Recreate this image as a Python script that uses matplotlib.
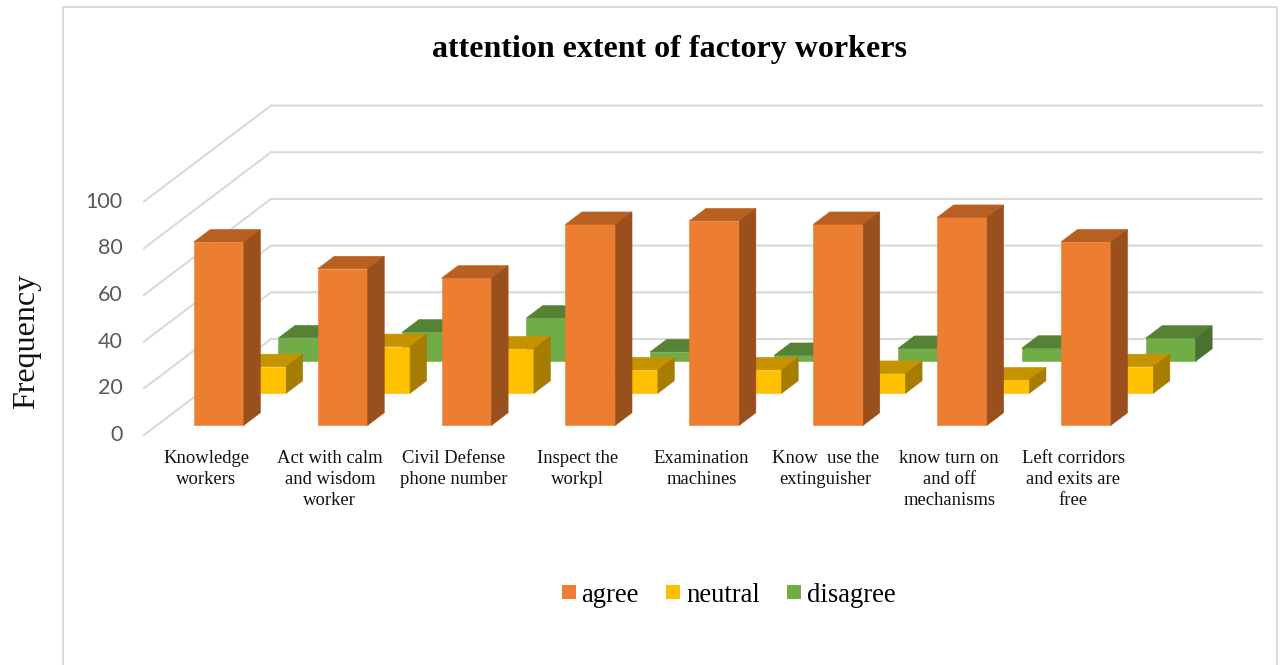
import matplotlib
matplotlib.use('Agg')
import matplotlib.pyplot as plt
from matplotlib.lines import Line2D
from matplotlib.patches import Patch, Polygon
from matplotlib.transforms import ScaledTranslation

categories = ['Knowledge\nworkers', 'Act with calm\nand wisdom\nworker', 'Civil Defense\nphone number',
              'Inspect the\nworkpl', 'Examination\nmachines', 'Know  use the\nextinguisher',
              'know turn on\nand off\nmechanisms', 'Left corridors\nand exits are\nfree']
agree = [78.5, 67, 63, 86, 87.5, 86, 89, 78.5]
neutral = [11.4, 20, 19, 10, 10, 8.5, 5.7, 11.4]
disagree = [10, 12.5, 18.5, 4, 2.5, 5.5, 5.6, 9.9]
y_ticks = [0, 20, 40, 60, 80, 100]

W, H = 1284, 665

# depth of the 3d look: one series row moves this far in data units
ROW_DX = 0.3417
ROW_DY = 13.7
BAR_W = 0.404
BAR_D = 0.39


def project(x, y, d):
    return (x + d * ROW_DX, y + d * ROW_DY)


def draw_bar(ax, x, val, row, colors):
    front, top, side = colors
    x0 = x - BAR_W / 2
    x1 = x + BAR_W / 2
    d0 = row + (1 - BAR_D) / 2
    d1 = d0 + BAR_D
    faces = [
        (front, [project(x0, 0, d0), project(x1, 0, d0), project(x1, val, d0), project(x0, val, d0)]),
        (top, [project(x0, val, d0), project(x1, val, d0), project(x1, val, d1), project(x0, val, d1)]),
        (side, [project(x1, 0, d0), project(x1, 0, d1), project(x1, val, d1), project(x1, val, d0)]),
    ]
    for color, pts in faces:
        ax.add_patch(Polygon(pts, closed=True, facecolor=color, edgecolor=color,
                             linewidth=0.4, clip_on=False, zorder=2 + (2 - row)))


fig = plt.figure(figsize=(W / 100, H / 100), dpi=100)
ax = fig.add_axes([144 / W, 1 - 435 / H, (1135 - 144) / W, (435 - 201.5) / H])
ax.set_xlim(0, 8)
ax.set_ylim(0, 100)
for s in ax.spines.values():
    s.set_visible(False)
ax.patch.set_visible(False)

# chart frame
frame_x = [63 / W, 63 / W, 1277 / W, 1277 / W]
frame_y = [0, 1 - 7 / H, 1 - 7 / H, 0]
fig.add_artist(Line2D(frame_x, frame_y, color='#D9D9D9', lw=1.4, transform=fig.transFigure))

# grid on side wall and back wall
for v in y_ticks:
    p0 = project(0, v, 0)
    p1 = project(0, v, 3)
    p2 = project(8, v, 3)
    ax.plot([p0[0], p1[0], p2[0]], [p0[1], p1[1], p2[1]], color='#D9D9D9', lw=1.5,
            clip_on=False, zorder=0)

series = [
    ('agree', agree, ('#ED7D31', '#B85F22', '#9A501D')),
    ('neutral', neutral, ('#FFC000', '#C59300', '#A67D00')),
    ('disagree', disagree, ('#70AD47', '#568235', '#4A712D')),
]

# back row first so the front rows cover it
for row in [2, 1, 0]:
    name, vals, colors = series[row]
    for i, val in enumerate(vals):
        draw_bar(ax, i + 0.5, val, row, colors)

ax.set_yticks(y_ticks)
ax.set_xticks([i + 0.5 for i in range(len(categories))])
ax.set_xticklabels(categories, family='Liberation Serif', fontsize=13.4, linespacing=1.32, color='#111111')
ax.tick_params(axis='x', length=0, pad=10.8)
ax.tick_params(axis='y', length=0, pad=15.5, labelsize=15.5, labelcolor='#595959')
# tick numbers sit a little above the gridline ends
up = ScaledTranslation(0, 2 / 100, fig.dpi_scale_trans)
for t in ax.get_yticklabels():
    t.set_family('Lato')
    t.set_transform(t.get_transform() + up)

fig.text(670 / W, 1 - 50 / H, 'attention extent of factory workers', family='Liberation Serif',
         fontsize=23, fontweight='bold', ha='center', va='center', color='black')
fig.text(27 / W, 1 - 341.5 / H, 'Frequency', family='Liberation Serif', fontsize=23,
         rotation=90, ha='center', va='center', color='#111111')

handles = [Patch(facecolor=c[0], label=n) for n, v, c in series]
leg = fig.legend(handles=handles, loc='center', bbox_to_anchor=(728.5 / W, 1 - 595 / H), ncol=3,
                 frameon=False, prop={'family': 'Liberation Serif', 'size': 19.2},
                 handlelength=0.525, handleheight=0.43, handletextpad=0.22, columnspacing=1.02)

fig.savefig('out.png', dpi=100)
